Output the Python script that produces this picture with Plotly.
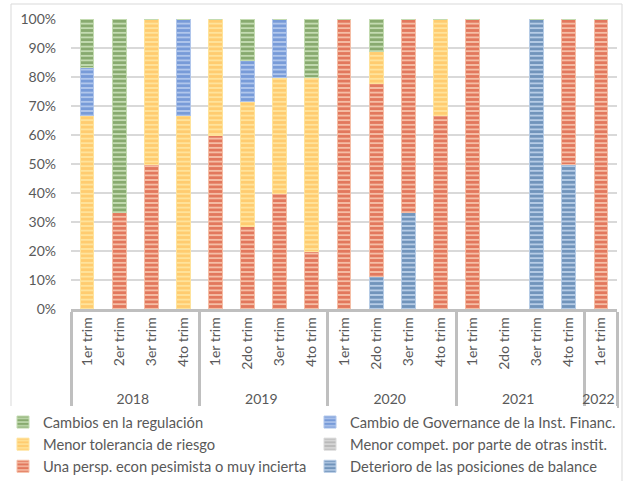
import plotly.graph_objects as go

years = ["2018"]*4 + ["2019"]*4 + ["2020"]*4 + ["2021"]*4 + ["2022"]
quarter_labels = ["1er trim", "2er trim", "3er trim", "4to trim",
                  "1er trim", "2do trim", "3er trim", "4to trim",
                  "1er trim", "2do trim", "3er trim", "4to trim",
                  "1er trim", "2do trim", "3er trim", "4to trim",
                  "1er trim"]
# order in which the quarter labels must be registered on the axis
quarter_order_labels = ["1er trim", "2er trim", "2do trim", "3er trim", "4to trim"]
quarter_order_years = ["2018", "2018", "2019", "2018", "2018"]

# shares (fractions) per series, bottom -> top of stack
deterioro   = [0, 0, 0, 0,   0, 0, 0, 0,   0, 1/9, 1/3, 0,   0, 0, 1, 0.5,   0]
persp       = [0, 1/3, 0.5, 0,   0.6, 2/7, 0.4, 0.2,   1, 6/9, 2/3, 2/3,   1, 0, 0, 0.5,   1]
compet      = [0]*17
tolerancia  = [2/3, 0, 0.5, 2/3,   0.4, 3/7, 0.4, 0.6,   0, 1/9, 0, 1/3,   0, 0, 0, 0,   0]
governance  = [1/6, 0, 0, 1/3,   0, 1/7, 0.2, 0,   0, 0, 0, 0,   0, 0, 0, 0,   0]
regulacion  = [1/6, 2/3, 0, 0,   0, 1/7, 0, 0.2,   0, 1/9, 0, 0,   0, 0, 0, 0,   0]

series = [
    ("Deterioro de las posiciones de balance", deterioro, "#2b5b90", "#b6cce6"),
    ("Una persp. econ pesimista o muy incierta", persp, "#cf3214", "#f5bea6"),
    ("Menor compet. por parte de otras instit.", compet, "#9a9a9a", "#dadada"),
    ("Menor tolerancia de riesgo", tolerancia, "#ffb545", "#ffe39b"),
    ("Cambio de Governance de la Inst. Financ.", governance, "#3f6fc4", "#b0c6ec"),
    ("Cambios en la regulación", regulacion, "#4e7a2e", "#c3dbb1"),
]

pad = "\u00a0\u00a0"  # leading spaces push the year row down a little
quarters = [pad + q for q in quarter_labels]
quarter_order = [pad + q for q in quarter_order_labels]

fig = go.Figure()
# helper trace (zero height) that fixes the order of the quarter labels
fig.add_trace(go.Bar(x=[quarter_order_years, quarter_order], y=[0]*len(quarter_order),
                     showlegend=False, hoverinfo="skip",
                     marker=dict(color="rgba(0,0,0,0)", line=dict(width=0))))
for name, vals, fg, bg in series:
    fig.add_trace(go.Bar(
        x=[years, quarters], y=vals, name=name,
        marker=dict(color=bg,
                    pattern=dict(shape="-", fgcolor=fg, bgcolor=bg, size=4.6, solidity=0.6),
                    line=dict(width=1, color=bg)),
    ))

L, R, T, B = 71, 16, 19, 172
PW, PH = 633 - L - R, 481 - T - B

font = "Lato, 'Gill Sans MT', sans-serif"
fig.update_layout(
    barmode="stack",
    bargap=0.57,
    width=633, height=481,
    margin=dict(l=L, r=R, t=T, b=B, autoexpand=False),
    plot_bgcolor="white", paper_bgcolor="white",
    font=dict(family=font, size=13, color="#595959"),
    legend=dict(orientation="h", traceorder="reversed",
                x=(3 - L) / PW, y=(T + PH - 406) / PH,
                xanchor="left", yanchor="top", entrywidth=262,
                font=dict(size=14.7, color="#595959"),
                itemwidth=30, tracegroupgap=0),
    yaxis=dict(range=[0, 1], tickformat=".0%", dtick=0.1, showgrid=True,
               gridcolor="#d9d9d9", gridwidth=1.5, zeroline=False,
               tickfont=dict(size=14, color="#595959"), ticks="",
               ticklabelstandoff=14),
    xaxis=dict(type="multicategory", tickangle=-90, showline=True, linecolor="#bfbfbf",
               linewidth=2.5, showdividers=True, dividercolor="#bfbfbf", dividerwidth=2.5,
               tickfont=dict(size=14, color="#595959")),
    shapes=[dict(type="rect", xref="paper", yref="paper",
                 x0=(11 - L) / PW, x1=(622 - L) / PW,
                 y0=(T + PH - 490) / PH, y1=(T + PH - 4) / PH,
                 line=dict(color="#d9d9d9", width=1), fillcolor="rgba(0,0,0,0)",
                 layer="below")],
)
fig.write_html("out.html", config={"displayModeBar": False},
               post_script="document.body.style.margin='0';")
